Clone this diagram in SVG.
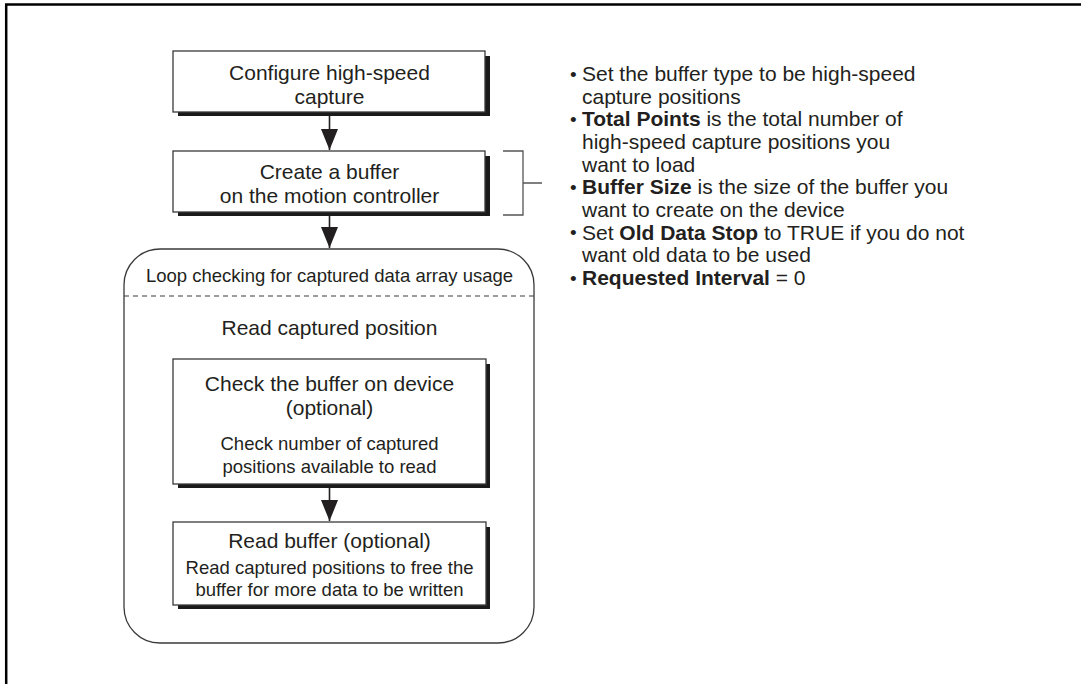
<svg xmlns="http://www.w3.org/2000/svg" width="1081" height="684" viewBox="0 0 1081 684">
<style>
  text { font-family: "Liberation Sans", Arial, sans-serif; fill: #231f20; }
  .big { font-size: 21px; }
  .small { font-size: 18.5px; }
  .c { text-anchor: middle; }
  .box { fill: #ffffff; stroke: #3a3a3a; stroke-width: 1.3; }
  .shadow { fill: #1a1a1a; }
  .conn { stroke: #231f20; stroke-width: 1.6; fill: none; }
  .bracket { stroke: #555555; stroke-width: 1.3; fill: none; }
  .b { font-weight: bold; }
  .dot { font-size: 19px; }
</style>
<defs>
  <marker id="arrow" markerUnits="userSpaceOnUse" markerWidth="22" markerHeight="18" refX="21" refY="8.5" orient="auto">
    <path d="M0,0 L21,8.5 L0,17 Z" fill="#231f20"/>
  </marker>
</defs>
<rect width="1081" height="684" fill="#ffffff"/>
<path d="M6.2,684 V4.5 H1081" fill="none" stroke="#000000" stroke-width="2.5"/>

<g id="node-configure">
  <rect class="shadow" x="178" y="56" width="312" height="60"/>
  <rect class="box" x="173" y="51" width="312" height="61"/>
  <text class="big c" x="329.5" y="79.5">Configure high-speed</text>
  <text class="big c" x="329.5" y="103.5">capture</text>
</g>

<g id="node-create">
  <rect class="shadow" x="178" y="156" width="312" height="60"/>
  <rect class="box" x="173" y="151" width="312" height="61"/>
  <text class="big c" x="329.5" y="179">Create a buffer</text>
  <text class="big c" x="329.5" y="202.5">on the motion controller</text>
</g>

<g id="node-loop">
  <rect x="124" y="249" width="410" height="394" rx="36" ry="36" fill="none" stroke="#3a3a3a" stroke-width="1.3"/>
  <line x1="124" y1="296" x2="534" y2="296" stroke="#3a3a3a" stroke-width="1.2" stroke-dasharray="5,4"/>
  <text class="small c" x="329.5" y="282">Loop checking for captured data array usage</text>
  <text class="big c" x="329.5" y="335">Read captured position</text>
</g>

<g id="node-check">
  <rect class="shadow" x="178" y="364" width="312" height="124"/>
  <rect class="box" x="173" y="359" width="313" height="125"/>
  <text class="big c" x="329.5" y="391">Check the buffer on device</text>
  <text class="big c" x="329.5" y="415">(optional)</text>
  <text class="small c" x="329.5" y="450">Check number of captured</text>
  <text class="small c" x="329.5" y="473">positions available to read</text>
</g>

<g id="node-read">
  <rect class="shadow" x="178" y="527" width="312" height="82"/>
  <rect class="box" x="173" y="522" width="313" height="83"/>
  <text class="big c" x="329.5" y="548">Read buffer (optional)</text>
  <text class="small c" x="329.5" y="574">Read captured positions to free the</text>
  <text class="small c" x="329.5" y="596">buffer for more data to be written</text>
</g>

<g id="notes">
  <path class="bracket" d="M503,151 H523 V215 H503 M523,183 H542"/>
  <text class="dot" x="570" y="80.5">•</text><text class="big" x="582" y="81">Set the buffer type to be high-speed</text>
  <text class="big" x="582" y="103.7">capture positions</text>
  <text class="dot" x="570" y="125.8">•</text><text class="big" x="582" y="126.3"><tspan class="b">Total Points</tspan> is the total number of</text>
  <text class="big" x="582" y="149">high-speed capture positions you</text>
  <text class="big" x="582" y="171.7">want to load</text>
  <text class="dot" x="570" y="193.8">•</text><text class="big" x="582" y="194.3"><tspan class="b">Buffer Size</tspan> is the size of the buffer you</text>
  <text class="big" x="582" y="217">want to create on the device</text>
  <text class="dot" x="570" y="239.2">•</text><text class="big" x="582" y="239.7">Set <tspan class="b">Old Data Stop</tspan> to TRUE if you do not</text>
  <text class="big" x="582" y="262.3">want old data to be used</text>
  <text class="dot" x="570" y="284.5">•</text><text class="big" x="582" y="285"><tspan class="b">Requested Interval</tspan> = 0</text>
</g>

<g id="connectors">
  <path class="conn" d="M329.5,116 V150" marker-end="url(#arrow)"/>
  <path class="conn" d="M329.5,216 V248" marker-end="url(#arrow)"/>
  <path class="conn" d="M329.5,488 V521" marker-end="url(#arrow)"/>
</g>
</svg>
